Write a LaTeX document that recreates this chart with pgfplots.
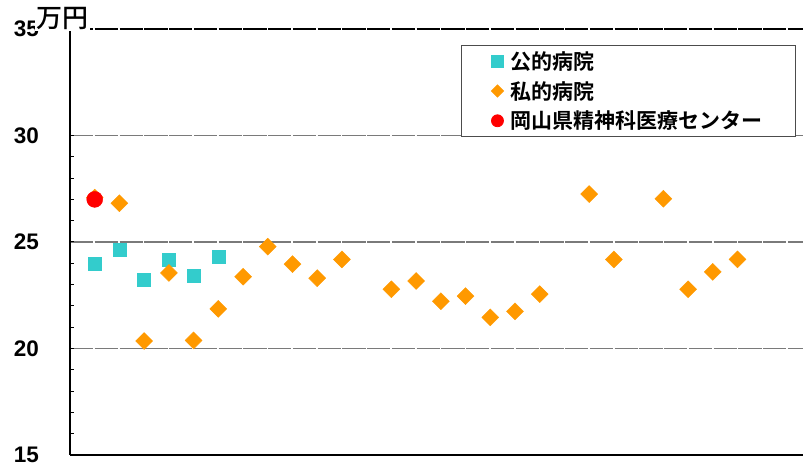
\documentclass[border=0pt]{standalone}
\usepackage{fontspec}
\setmainfont{Liberation Sans}
\newfontfamily\cjkb{Noto Sans CJK JP Bold}
\newfontfamily\cjkm{Noto Sans CJK JP Medium}
\usepackage{pgfplots}
\pgfplotsset{compat=1.18}
\definecolor{pubc}{HTML}{33CCCC}
\definecolor{pric}{HTML}{FF9900}
\definecolor{cenc}{HTML}{FF0000}
\definecolor{gridc}{HTML}{7A7A7A}
\begin{document}
\begin{tikzpicture}
\useasboundingbox (-70pt,-18pt) rectangle (733pt,455pt);
\begin{axis}[
  at={(0pt,0pt)}, anchor=south west,
  scale only axis, width=733pt, height=426pt,
  xmin=0, xmax=29.65, ymin=15, ymax=35,
  axis x line*=bottom, axis y line*=left,
  axis line style={black, line width=1.3pt},
  xtick=\empty,
  ytick={15,20,25,30},
  extra y ticks={35}, extra y tick labels={35},
  extra y tick style={grid style={black, line width=1.3pt, dash pattern=on 23.35pt off 1.4pt}},
  minor y tick num=4,
  tick align=inside,
  major tick length=4pt, minor tick length=4pt,
  every tick/.style={black, line width=1pt},
  ymajorgrids,
  grid style={gridc, line width=1.3pt, dash pattern=on 23.35pt off 1.4pt},
  yticklabel style={inner sep=0pt, xshift=-31pt, font=\bfseries\fontsize{22.5}{27}\selectfont},
  /pgf/number format/assume math mode=true,
  clip=false,
  legend style={at={(rel axis cs:0.5334,0.9624)}, anchor=north west,
    draw=black!70, line width=0.8pt, fill=white,
    font=\cjkb\fontsize{21}{25}\selectfont,
    inner xsep=30pt, inner ysep=3pt, row sep=4.5pt, column sep=4pt,
    nodes={inner sep=3pt}},
  legend cell align=left,
  legend image code/.code={\draw[#1] plot coordinates {(0pt,0pt)};},
]
\addplot[only marks, mark=square*, mark size=6.5pt, color=pubc,
  legend image post style={mark size=6pt}]
coordinates {(1,23.98)(2,24.62)(3,23.22)(4,24.17)(5,23.40)(6,24.29)};
\addlegendentry{公的病院}
\addplot[only marks, mark=square*, mark size=6pt, mark options={rotate=45}, color=pric,
  legend image post style={mark size=4.3pt}]
coordinates {(1,27.08)(2,26.82)(3,20.35)(4,23.55)(5,20.38)(6,21.86)(7,23.37)(8,24.78)(9,23.96)
(10,23.30)(11,24.18)(13,22.78)(14,23.17)(15,22.22)(16,22.46)(17,21.46)(18,21.74)(19,22.55)
(21,27.25)(22,24.18)(24,27.03)(25,22.78)(26,23.60)(27,24.18)};
\addlegendentry{私的病院}
\addplot[only marks, mark=*, mark size=8pt, color=cenc,
  legend image post style={mark size=6pt}]
coordinates {(1,27.0)};
\addlegendentry{岡山県精神科医療センター}
\node[fill=white, inner sep=1.5pt, font=\cjkm\fontsize{26}{30}\selectfont] at (rel axis cs:-0.010,1.0255) {万円};
\end{axis}
\end{tikzpicture}
\end{document}
